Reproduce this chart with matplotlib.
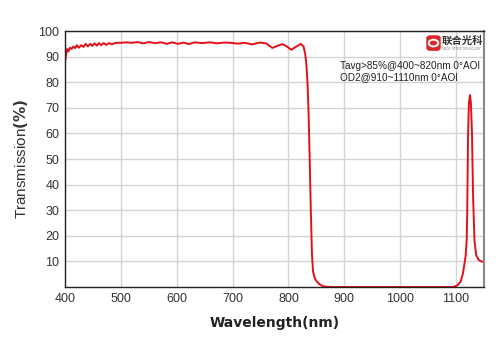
import numpy as np
import matplotlib.pyplot as plt
from matplotlib.patches import FancyBboxPatch, Circle

# wavelength (nm) and transmission (%)
wl = [400, 402, 404, 406, 409, 412, 415, 418, 421, 425, 429, 433, 437, 441,
      445, 449, 453, 457, 461, 465, 469, 474, 479, 484, 490, 500, 510, 520,
      530, 540, 550, 562, 572, 582, 592, 602, 612, 622, 632, 645, 660, 672,
      685, 697, 710, 722, 735, 748, 760, 771, 780, 789, 797, 805, 813, 822,
      827, 830, 832, 834, 836, 838, 840, 842, 844, 847, 851, 856, 862, 870,
      880, 1000, 1095, 1102, 1108, 1112, 1115, 1117, 1119, 1120, 1121.5,
      1123, 1125, 1126.5, 1128.5, 1130.5, 1133, 1136, 1140, 1145, 1150]
trans = [88, 91, 93, 92, 93.5, 93, 94, 93.3, 94.5, 93.5, 94.5, 93.8, 95, 94.0,
         95, 94.2, 95.2, 94.3, 95.3, 94.5, 95.3, 94.6, 95.3, 94.8, 95.4, 95.4, 95.6, 95.4,
         95.7, 95.2, 95.7, 95.3, 95.6, 95.0, 95.6, 95.0, 95.5, 94.9, 95.6, 95.3, 95.6, 95.2,
         95.5, 95.4, 95.1, 95.4, 94.8, 95.5, 95.2, 93.4, 94.2, 94.9, 94.0, 92.7, 93.8, 95.0,
         94.0, 91, 87, 80, 68, 50, 30, 13, 6, 3.5, 2, 1, 0.3, 0.05,
         0, 0, 0, 0.6, 2, 5, 9, 12, 18, 30, 60,
         72, 75, 72, 60, 35, 18, 12.5, 10.7, 10, 9.8]

yticks = [10, 20, 30, 40, 50, 60, 70, 80, 90, 100]
xticks = [400, 500, 600, 700, 800, 900, 1000, 1100]

plt.rcParams['font.family'] = ['Liberation Sans', 'DejaVu Sans']
fig = plt.figure(figsize=(5, 3.53), dpi=100)
ax = fig.add_axes([0.13, 0.187, 0.838, 0.725])

ax.plot(wl, trans, color='#e3101a', linewidth=1.4)
ax.set_xlim(400, 1150)
ax.set_ylim(0, 100)
ax.set_xticks(xticks)
ax.set_yticks(yticks)
ax.grid(True, color='#d4d4d4', linewidth=1)
ax.set_axisbelow(True)
ax.tick_params(length=0, labelsize=9, labelcolor='#333333', pad=4)

for s in ['left', 'bottom', 'top']:
    ax.spines[s].set_color('#222222')
    ax.spines[s].set_linewidth(1)
ax.spines['right'].set_color('#888888')
ax.spines['right'].set_linewidth(1.5)

ax.set_xlabel('Wavelength(nm)', family='DejaVu Sans', fontsize=10, fontweight='bold',
              color='#222222', labelpad=8)
ax.set_ylabel(r'Transmission$\mathbf{(\%)}$', fontsize=11, color='#333333', labelpad=6)

ax.text(0.656, 0.84, 'Tavg>85%@400~820nm 0°AOI\nOD2@910~1110nm 0°AOI',
        transform=ax.transAxes, fontsize=7.2, color='#222222',
        linespacing=1.15, va='center')

# logo
fig.patches.append(FancyBboxPatch((0.854, 0.858), 0.026, 0.04,
                                  boxstyle='round,pad=0,rounding_size=0.006',
                                  transform=fig.transFigure, color='#d9262d'))
fig.patches.append(Circle((0.867, 0.878), 0.0095, transform=fig.transFigure,
                          fill=False, edgecolor='white', linewidth=1.4))
fig.text(0.884, 0.883, '联合光科', family=['Noto Sans CJK SC', 'DejaVu Sans'],
         fontsize=7.5, fontweight='bold', color='#333333', va='center')
fig.text(0.885, 0.86, 'UNION  OPTICS  TECHNOLOGY', fontsize=1.8, color='#666666', va='center')

fig.savefig('out.png', dpi=100)
